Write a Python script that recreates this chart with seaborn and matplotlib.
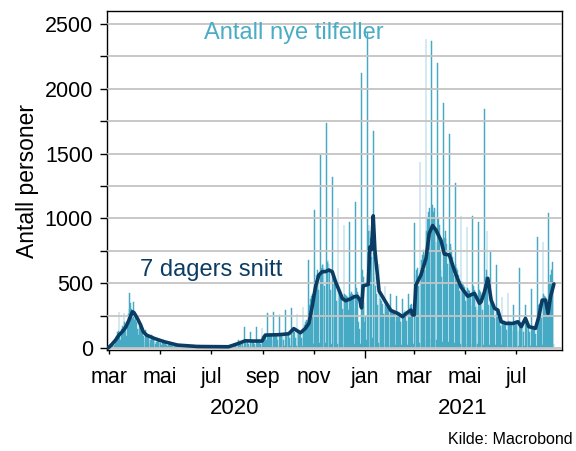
import numpy as np
import pandas as pd
import matplotlib
matplotlib.use("Agg")
import matplotlib.pyplot as plt
import seaborn as sns

# ---------------- data: daily new cases, one list per month ----------------
feb20 = [2, 4]  # from 2020-02-28
mar20 = [5, 10, 20, 25, 40, 45, 30, 25, 60, 90, 120, 130, 280, 100, 60, 150, 170, 160, 268, 200, 150,
         90, 200, 260, 300, 422, 350, 300, 230, 357, 250]
apr20 = [220, 240, 200, 150, 100, 150, 177, 160, 140, 120, 90, 50, 80, 139, 100, 90, 100, 70, 40, 60,
         100, 90, 80, 75, 50, 30, 50, 70, 60, 55]
may20 = [50, 40, 20, 40, 60, 50, 40, 35, 25, 15, 25, 40, 35, 30, 25, 15, 10, 15, 30, 25, 20, 20, 12, 8,
         12, 25, 20, 18, 15, 10, 6]
jun20 = [12, 25, 20, 18, 15, 10, 6, 10, 22, 18, 16, 14, 8, 5, 10, 20, 15, 14, 12, 8, 5, 10, 18, 14, 12,
         10, 6, 4, 8, 16]
jul20 = [12, 10, 9, 6, 4, 8, 14, 12, 10, 9, 5, 3, 8, 14, 12, 10, 10, 6, 4, 10, 16, 14, 12, 12, 8, 5, 14,
         25, 22, 20, 25]
aug20 = [20, 5, 60, 45, 50, 45, 50, 35, 8, 165, 50, 55, 50, 45, 30, 8, 126, 50, 45, 45, 45, 30, 8, 165,
         45, 45, 40, 45, 30, 8, 152]
sep20 = [90, 95, 100, 95, 60, 10, 268, 95, 100, 95, 90, 60, 10, 280, 95, 100, 100, 95, 60, 10, 255, 100,
         105, 100, 95, 65, 12, 293, 110, 115]
oct20 = [120, 115, 80, 12, 306, 130, 135, 130, 120, 80, 12, 260, 120, 125, 120, 115, 75, 12, 319, 150,
         180, 200, 220, 160, 20, 679, 330, 380, 400, 420, 300]
nov20 = [30, 1065, 520, 560, 600, 580, 450, 40, 1489, 620, 640, 650, 620, 480, 40, 1734, 660, 680, 650,
         600, 450, 35, 1322, 560, 540, 520, 480, 360, 30, 1078]
dec20 = [450, 430, 420, 400, 300, 30, 949, 420, 410, 400, 390, 290, 30, 975, 420, 430, 420, 410, 300, 30,
         1129, 460, 430, 200, 120, 150, 30, 2120, 600, 550, 350]
jan21 = [200, 250, 60, 2428, 900, 950, 900, 850, 700, 80, 1674, 700, 550, 480, 420, 330, 40, 650, 400,
         380, 360, 340, 260, 30, 480, 330, 320, 310, 300, 230, 25]
feb21 = [420, 300, 290, 290, 280, 210, 25, 400, 280, 270, 270, 260, 200, 25, 380, 270, 280, 290, 280, 210,
         25, 420, 300, 320, 330, 340, 260, 30]
mar21 = [962, 520, 560, 600, 620, 480, 40, 1438, 620, 680, 720, 760, 600, 60, 2382, 900, 1000, 1050, 1080,
         880, 70, 2371, 1100, 1050, 1080, 1000, 820, 60, 2197, 1000, 950]
apr21 = [750, 600, 550, 50, 1888, 850, 900, 850, 800, 650, 50, 1651, 800, 780, 750, 700, 560, 40, 1276,
         650, 620, 600, 560, 440, 35, 1018, 520, 500, 490, 470]
may21 = [360, 35, 936, 460, 450, 440, 420, 330, 30, 1018, 480, 450, 320, 380, 290, 30, 975, 450, 430, 420,
         400, 290, 25, 1842, 550, 600, 903, 520, 330, 25, 743]
jun21 = [380, 360, 340, 320, 230, 25, 640, 300, 280, 260, 240, 170, 20, 396, 220, 210, 210, 200, 140, 15,
         427, 210, 200, 200, 190, 130, 15, 332, 200, 210]
jul21 = [200, 190, 130, 15, 615, 200, 190, 180, 170, 120, 15, 332, 200, 190, 190, 180, 120, 15, 453, 170,
         160, 160, 150, 110, 15, 859, 300, 330, 340, 330, 230]
aug21 = [20, 820, 420, 400, 390, 380, 260, 20, 1039, 500, 560, 600, 666, 480, 30]

month_starts = ["2020-02-28", "2020-03-01", "2020-04-01", "2020-05-01", "2020-06-01", "2020-07-01",
                "2020-08-01", "2020-09-01", "2020-10-01", "2020-11-01", "2020-12-01", "2021-01-01",
                "2021-02-01", "2021-03-01", "2021-04-01", "2021-05-01", "2021-06-01", "2021-07-01",
                "2021-08-01"]
month_lists = [feb20, mar20, apr20, may20, jun20, jul20, aug20, sep20, oct20, nov20, dec20,
               jan21, feb21, mar21, apr21, may21, jun21, jul21, aug21]

# ---------------- 7-day average ----------------
avg_dates = ["2020-02-29", "2020-03-04", "2020-03-09", "2020-03-13", "2020-03-17", "2020-03-21",
             "2020-03-25", "2020-03-29", "2020-03-31", "2020-04-04", "2020-04-08", "2020-04-11",
             "2020-04-15", "2020-04-24", "2020-05-06", "2020-05-22", "2020-06-15", "2020-07-22",
             "2020-08-03", "2020-08-11", "2020-08-21", "2020-08-31", "2020-09-04", "2020-09-20",
             "2020-10-02", "2020-10-08", "2020-10-16", "2020-10-22", "2020-10-26", "2020-10-30",
             "2020-11-03", "2020-11-07", "2020-11-11", "2020-11-15", "2020-11-19", "2020-11-23",
             "2020-11-27", "2020-12-01", "2020-12-05", "2020-12-09", "2020-12-15", "2020-12-19",
             "2020-12-23", "2020-12-26", "2020-12-28", "2020-12-30", "2021-01-05", "2021-01-07",
             "2021-01-09", "2021-01-11", "2021-01-13", "2021-01-15", "2021-01-18", "2021-01-24",
             "2021-02-01", "2021-02-09", "2021-02-15", "2021-02-21", "2021-02-25", "2021-02-27",
             "2021-03-01", "2021-03-03", "2021-03-09", "2021-03-15", "2021-03-19", "2021-03-23",
             "2021-03-27", "2021-04-02", "2021-04-06", "2021-04-12", "2021-04-19", "2021-04-26",
             "2021-05-04", "2021-05-12", "2021-05-18", "2021-05-20", "2021-05-24", "2021-05-28",
             "2021-06-01", "2021-06-05", "2021-06-09", "2021-06-13", "2021-06-19", "2021-06-27",
             "2021-07-03", "2021-07-07", "2021-07-12", "2021-07-16", "2021-07-24", "2021-07-28",
             "2021-08-01", "2021-08-05", "2021-08-08", "2021-08-11", "2021-08-15"]
avg_values = [0, 25, 62, 100, 126, 160,
              216, 280, 273, 229, 177, 126,
              100, 75, 49, 23, 12, 10,
              36, 56, 54, 54, 100, 103,
              110, 150, 118, 152, 190, 319,
              473, 563, 589, 590, 602, 589,
              510, 448, 383, 365, 380, 395,
              400, 370, 310, 480, 490, 780,
              760, 1020, 756, 627, 440, 375,
              290, 268, 242, 275, 293, 255,
              255, 486, 563, 690, 885, 945,
              910, 830, 725, 718, 580, 470,
              400, 422, 345, 357, 434, 538,
              370, 306, 293, 203, 190, 190,
              203, 165, 229, 165, 152, 242,
              370, 370, 268, 396, 494]

tick_dates = ["2020-03-01", "2020-05-01", "2020-07-01", "2020-09-01", "2020-11-01",
              "2021-01-01", "2021-03-01", "2021-05-01", "2021-07-01"]
tick_labels = ["mar", "mai", "jul", "sep", "nov", "jan", "mar", "mai", "jul"]
year_labels = ["2020", "2021"]

# ---------------- build frames ----------------
parts = []
for start, vals in zip(month_starts, month_lists):
    d = pd.date_range(start, periods=len(vals), freq="D")
    parts.append(pd.DataFrame({"date": d, "cases": vals}))
daily = pd.concat(parts, ignore_index=True)
avg = pd.DataFrame({"date": pd.to_datetime(avg_dates), "avg": avg_values})

# ---------------- style ----------------
sns.set_style("white")
plt.rcParams["font.family"] = ["Liberation Sans", "DejaVu Sans"]
plt.rcParams["text.color"] = "black"
plt.rcParams["axes.labelcolor"] = "black"
plt.rcParams["xtick.color"] = "black"
plt.rcParams["ytick.color"] = "black"

LIGHT = "#47AAC5"
DARK = "#0B3D64"

fig = plt.figure(figsize=(5.76, 4.51), dpi=100)
ax = fig.add_axes([107 / 576, 101 / 451, 455 / 576, 339 / 451])

ax.bar(daily["date"], daily["cases"], width=0.9, color=LIGHT, edgecolor=LIGHT,
       linewidth=0.35, zorder=1)
sns.lineplot(data=avg, x="date", y="avg", ax=ax, color=DARK, linewidth=2.6, zorder=4)

t0 = pd.Timestamp("2020-03-01")
ax.set_xlim(t0 - pd.Timedelta(days=2.3), t0 + pd.Timedelta(days=541.7))
ax.set_ylim(-15, 2600)

# y ticks / grid
ax.set_yticks(np.arange(0, 2501, 500))
ax.set_yticks(np.arange(250, 2500, 500), minor=True)
ax.yaxis.grid(True, which="both", color="#C4C4C4", linewidth=1.3, zorder=2)
ax.set_axisbelow(False)
ax.tick_params(axis="y", which="both", direction="out", length=5, width=1, color="black",
               labelsize=15.5, labelcolor="black", pad=5, left=True)
ax.tick_params(axis="x", which="major", direction="out", length=3, width=1, color="black",
               labelsize=15.5, labelcolor="black", pad=9, bottom=True)

ax.set_xticks(pd.to_datetime(tick_dates))
ax.set_xticklabels(tick_labels)
jan_tick = ax.xaxis.get_major_ticks()[5]
jan_tick.tick1line.set_markersize(6)

for s in ax.spines.values():
    s.set_visible(True)
    s.set_color("black")
    s.set_linewidth(1.0)

ax.set_xlabel("")
ax.set_ylabel("Antall personer", fontsize=16.5, color="black")
ax.yaxis.set_label_coords(-0.15, 0.5)

ax.text(0.41, 0.935, "Antall nye tilfeller", transform=ax.transAxes, color="#4BACC6",
        fontsize=17, ha="center", va="center")
ax.text(0.23, 0.235, "7 dagers snitt", transform=ax.transAxes, color=DARK,
        fontsize=17, ha="center", va="center")

fig.text(235 / 576, 1 - 408 / 451, year_labels[0], fontsize=16, ha="center", va="center", color="black")
fig.text(463 / 576, 1 - 408 / 451, year_labels[1], fontsize=16, ha="center", va="center", color="black")
fig.text(573 / 576, 1 - 440 / 451, "Kilde: Macrobond", fontsize=11.5, ha="right", va="center",
         color="black")

fig.savefig("out.png", dpi=100)
